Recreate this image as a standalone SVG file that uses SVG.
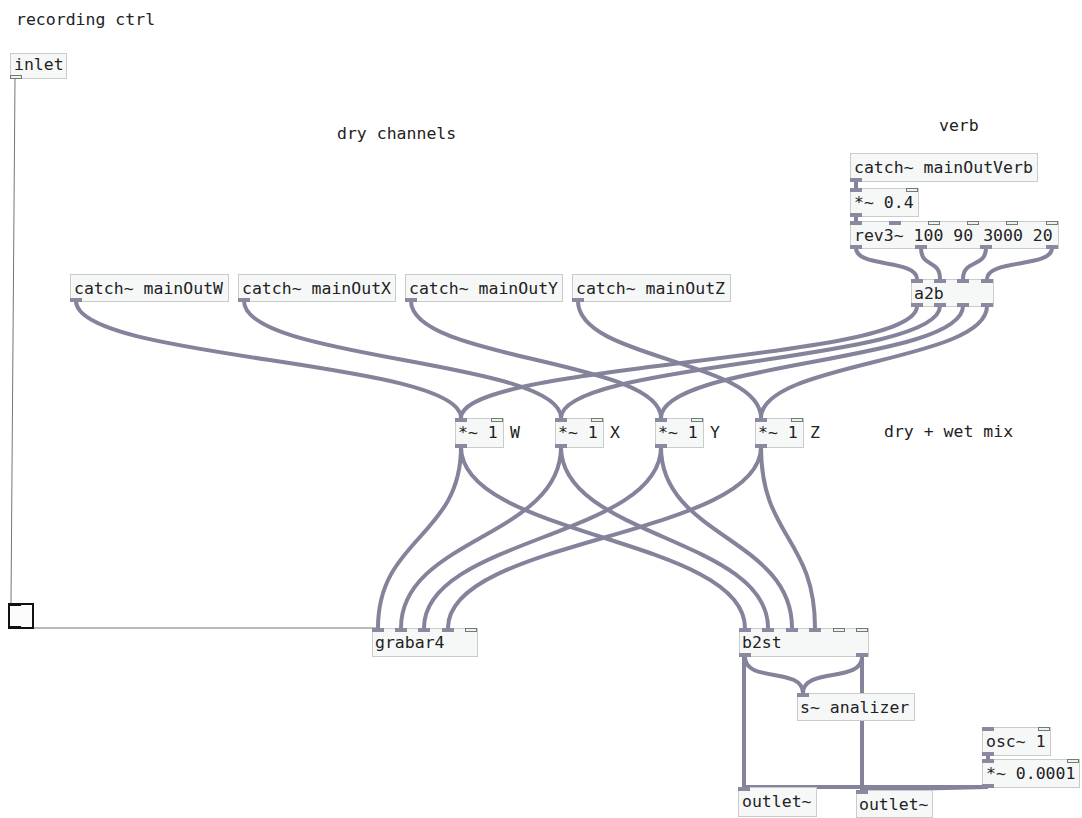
<svg xmlns="http://www.w3.org/2000/svg" width="1082" height="818" viewBox="0 0 1082 818">
<style>
.bx{fill:#f6f8f8;stroke:#cacccc;stroke-width:1}
.t{font-family:"DejaVu Sans Mono","Liberation Mono",monospace;font-size:16.5px;fill:#222}
.s{fill:#8a89a0}
.c{fill:#eef2ee;stroke:#6e7e6e;stroke-width:1}
.cord{fill:none;stroke:#84839c;stroke-width:4}
.thin{fill:none;stroke:#6b7b6b;stroke-width:1}
</style>
<rect width="1082" height="818" fill="#ffffff"/>
<g id="comments">
<text class="t" x="16" y="25">recording ctrl</text>
<text class="t" x="337" y="139">dry channels</text>
<text class="t" x="939" y="131">verb</text>
<text class="t" x="884" y="437">dry + wet mix</text>
</g>
<g id="connectors">
<path class="thin" d="M15,78 L11,603"/>
<path class="thin" d="M12,628 L378,628"/>
<path class="cord" d="M856,181 L856,188"/>
<path class="cord" d="M856,216 L856,221"/>
<path class="cord" d="M856,248 C856,268 917,259 917,279"/>
<path class="cord" d="M921,248 C921,268 940,259 940,279"/>
<path class="cord" d="M986,248 C986,268 963,259 963,279"/>
<path class="cord" d="M1052,248 C1052,268 987,259 987,279"/>
<path class="cord" d="M76,301 C76,360 461,360 461,418"/>
<path class="cord" d="M244,301 C244,360 561,360 561,418"/>
<path class="cord" d="M411,301 C411,360 661,360 661,418"/>
<path class="cord" d="M578,301 C578,360 761,360 761,418"/>
<path class="cord" d="M917,306 C917,362 461,362 461,418"/>
<path class="cord" d="M940,306 C940,362 561,362 561,418"/>
<path class="cord" d="M963,306 C963,362 661,362 661,418"/>
<path class="cord" d="M987,306 C987,362 761,362 761,418"/>
<path class="cord" d="M461,447 C461,537 378,538 378,628"/>
<path class="cord" d="M561,447 C561,537 401,538 401,628"/>
<path class="cord" d="M661,447 C661,537 424,538 424,628"/>
<path class="cord" d="M761,447 C761,537 448,538 448,628"/>
<path class="cord" d="M461,447 C461,537 745,538 745,628"/>
<path class="cord" d="M561,447 C561,537 768,538 768,628"/>
<path class="cord" d="M661,447 C661,537 792,538 792,628"/>
<path class="cord" d="M761,447 C761,537 815,538 815,628"/>
<path class="cord" d="M745,657 C745,683 803,667 803,693"/>
<path class="cord" d="M862,657 C862,683 803,667 803,693"/>
<path class="cord" d="M744,657 L744,787"/>
<path class="cord" d="M862,657 L862,790"/>
<path class="cord" d="M988,755 L988,759"/>
<path class="cord" d="M988,787 L744,787"/>
<path class="cord" d="M988,787 L862,790"/>
</g>
<g id="inlet">
<rect class="bx" x="10.5" y="53.5" width="56" height="25"/>
<text class="t" x="14" y="70">inlet</text>
<rect class="c" x="10.5" y="75.5" width="11" height="3"/>
</g>
<g id="toggle">
<rect x="9" y="604" width="24" height="24" fill="#fcfcfc" stroke="#111" stroke-width="2"/>
<rect x="8" y="603" width="13" height="3" fill="#111"/>
<rect x="8" y="626" width="13" height="3" fill="#111"/>
</g>
<g id="catchVerb">
<rect class="bx" x="850.5" y="153.5" width="187" height="28"/>
<text class="t" x="854" y="173">catch~ mainOutVerb</text>
<rect class="s" x="850" y="178" width="12" height="4"/>
</g>
<g id="mul04">
<rect class="bx" x="850.5" y="188.5" width="68" height="28"/>
<text class="t" x="854" y="208">*~ 0.4</text>
<rect class="s" x="850" y="188" width="12" height="4"/>
<rect class="c" x="906.5" y="188.5" width="11" height="3"/>
<rect class="s" x="850" y="213" width="12" height="4"/>
</g>
<g id="rev3">
<rect class="bx" x="850.5" y="221.5" width="208" height="27"/>
<text class="t" x="854" y="241">rev3~ 100 90 3000 20</text>
<rect class="s" x="850" y="221" width="12" height="4"/>
<rect class="s" x="889" y="221" width="12" height="4"/>
<rect class="c" x="928.5" y="221.5" width="11" height="3"/>
<rect class="c" x="967.5" y="221.5" width="11" height="3"/>
<rect class="c" x="1006.5" y="221.5" width="11" height="3"/>
<rect class="c" x="1046.5" y="221.5" width="11" height="3"/>
<rect class="s" x="850" y="245" width="12" height="4"/>
<rect class="s" x="915" y="245" width="12" height="4"/>
<rect class="s" x="980" y="245" width="12" height="4"/>
<rect class="s" x="1046" y="245" width="12" height="4"/>
</g>
<g id="a2b">
<rect class="bx" x="911.5" y="279.5" width="82" height="27"/>
<text class="t" x="914" y="299">a2b</text>
<rect class="s" x="911" y="279" width="12" height="4"/>
<rect class="s" x="934" y="279" width="12" height="4"/>
<rect class="s" x="957" y="279" width="12" height="4"/>
<rect class="s" x="981" y="279" width="12" height="4"/>
<rect class="s" x="911" y="303" width="12" height="4"/>
<rect class="s" x="934" y="303" width="12" height="4"/>
<rect class="s" x="957" y="303" width="12" height="4"/>
<rect class="s" x="981" y="303" width="12" height="4"/>
</g>
<g id="catchW">
<rect class="bx" x="70.5" y="274.5" width="158" height="27"/>
<text class="t" x="74" y="294">catch~ mainOutW</text>
<rect class="s" x="70" y="298" width="12" height="4"/>
</g>
<g id="catchX">
<rect class="bx" x="238.5" y="274.5" width="157" height="27"/>
<text class="t" x="242" y="294">catch~ mainOutX</text>
<rect class="s" x="238" y="298" width="12" height="4"/>
</g>
<g id="catchY">
<rect class="bx" x="405.5" y="274.5" width="157" height="27"/>
<text class="t" x="409" y="294">catch~ mainOutY</text>
<rect class="s" x="405" y="298" width="12" height="4"/>
</g>
<g id="catchZ">
<rect class="bx" x="572.5" y="274.5" width="158" height="27"/>
<text class="t" x="576" y="294">catch~ mainOutZ</text>
<rect class="s" x="572" y="298" width="12" height="4"/>
</g>
<g id="mulW">
<rect class="bx" x="455.5" y="418.5" width="48" height="29"/>
<text class="t" x="458" y="438">*~ 1</text>
<rect class="s" x="455" y="418" width="12" height="4"/>
<rect class="c" x="491.5" y="418.5" width="11" height="3"/>
<rect class="s" x="455" y="444" width="12" height="4"/>
<text class="t" x="510" y="438">W</text>
</g>
<g id="mulX">
<rect class="bx" x="555.5" y="418.5" width="48" height="29"/>
<text class="t" x="558" y="438">*~ 1</text>
<rect class="s" x="555" y="418" width="12" height="4"/>
<rect class="c" x="591.5" y="418.5" width="11" height="3"/>
<rect class="s" x="555" y="444" width="12" height="4"/>
<text class="t" x="610" y="438">X</text>
</g>
<g id="mulY">
<rect class="bx" x="655.5" y="418.5" width="48" height="29"/>
<text class="t" x="658" y="438">*~ 1</text>
<rect class="s" x="655" y="418" width="12" height="4"/>
<rect class="c" x="691.5" y="418.5" width="11" height="3"/>
<rect class="s" x="655" y="444" width="12" height="4"/>
<text class="t" x="710" y="438">Y</text>
</g>
<g id="mulZ">
<rect class="bx" x="755.5" y="418.5" width="48" height="29"/>
<text class="t" x="758" y="438">*~ 1</text>
<rect class="s" x="755" y="418" width="12" height="4"/>
<rect class="c" x="791.5" y="418.5" width="11" height="3"/>
<rect class="s" x="755" y="444" width="12" height="4"/>
<text class="t" x="810" y="438">Z</text>
</g>
<g id="grabar4">
<rect class="bx" x="372.5" y="628.5" width="105" height="28"/>
<text class="t" x="375" y="648">grabar4</text>
<rect class="s" x="372" y="628" width="12" height="4"/>
<rect class="s" x="395" y="628" width="12" height="4"/>
<rect class="s" x="418" y="628" width="12" height="4"/>
<rect class="s" x="442" y="628" width="12" height="4"/>
<rect class="c" x="465.5" y="628.5" width="11" height="3"/>
</g>
<g id="b2st">
<rect class="bx" x="739.5" y="628.5" width="129" height="28"/>
<text class="t" x="742" y="648">b2st</text>
<rect class="s" x="739" y="628" width="12" height="4"/>
<rect class="s" x="762" y="628" width="12" height="4"/>
<rect class="s" x="786" y="628" width="12" height="4"/>
<rect class="s" x="809" y="628" width="12" height="4"/>
<rect class="c" x="833.5" y="628.5" width="11" height="3"/>
<rect class="c" x="856.5" y="628.5" width="11" height="3"/>
<rect class="s" x="739" y="653" width="12" height="4"/>
<rect class="s" x="856" y="653" width="12" height="4"/>
</g>
<g id="sanalizer">
<rect class="bx" x="797.5" y="693.5" width="117" height="27"/>
<text class="t" x="800" y="713">s~ analizer</text>
<rect class="s" x="797" y="693" width="12" height="4"/>
</g>
<g id="osc">
<rect class="bx" x="982.5" y="727.5" width="68" height="28"/>
<text class="t" x="986" y="747">osc~ 1</text>
<rect class="s" x="982" y="727" width="12" height="4"/>
<rect class="c" x="1038.5" y="727.5" width="11" height="3"/>
<rect class="s" x="982" y="752" width="12" height="4"/>
</g>
<g id="mul00001">
<rect class="bx" x="982.5" y="759.5" width="97" height="28"/>
<text class="t" x="986" y="779">*~ 0.0001</text>
<rect class="s" x="982" y="759" width="12" height="4"/>
<rect class="c" x="1067.5" y="759.5" width="11" height="3"/>
<rect class="s" x="982" y="784" width="12" height="4"/>
</g>
<g id="outletL">
<rect class="bx" x="738.5" y="787.5" width="78" height="29"/>
<text class="t" x="742" y="807">outlet~</text>
<rect class="s" x="738" y="787" width="12" height="4"/>
</g>
<g id="outletR">
<rect class="bx" x="856.5" y="790.5" width="76" height="27"/>
<text class="t" x="859" y="810">outlet~</text>
<rect class="s" x="856" y="790" width="12" height="4"/>
</g>
</svg>
